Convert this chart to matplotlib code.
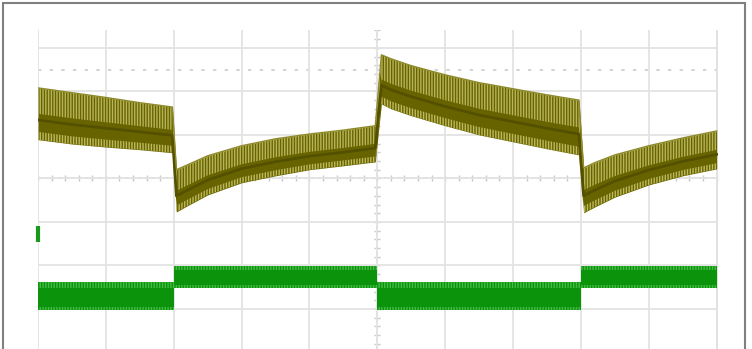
import matplotlib
matplotlib.use("Agg")
import matplotlib.pyplot as plt
from matplotlib.patches import Rectangle
import numpy as np

# channel 1 (olive) envelope, in screen divisions
ch1_x = [0, 0.5, 1, 1.5, 1.98,
         2.04, 2.2, 2.5, 3, 3.5, 4, 4.5, 4.97,
         5.06, 5.2, 5.5, 6, 6.5, 7, 7.5, 7.97,
         8.04, 8.2, 8.5, 9, 9.5, 10]
ch1_top = [2.08, 1.97, 1.86, 1.74, 1.64,
           0.20, 0.31, 0.52, 0.75, 0.91, 1.02, 1.11, 1.21,
           2.84, 2.75, 2.59, 2.38, 2.20, 2.06, 1.92, 1.80,
           0.24, 0.36, 0.54, 0.75, 0.93, 1.09]
ch1_bot = [0.89, 0.79, 0.72, 0.66, 0.59,
           -0.77, -0.63, -0.38, -0.10, 0.06, 0.20, 0.29, 0.38,
           1.71, 1.60, 1.44, 1.21, 1.00, 0.84, 0.68, 0.54,
           -0.79, -0.66, -0.43, -0.15, 0.06, 0.22]

# channel 2 (green) square wave, step edges
ch2_edges = [0, 2, 5, 8, 10]
ch2_top = [-2.39, -2.01, -2.39, -2.01, -2.01]
ch2_bot = [-3.02, -2.52, -3.02, -2.52, -2.52]
ch2_marker = -1.28
trig_level = 2.5

fig = plt.figure(figsize=(7.52, 3.49), dpi=100)
ax = fig.add_axes([38 / 752, 0, 680 / 752, 319 / 349])
ax.set_xlim(0, 10.02)
ax.set_ylim(-3.92, 3.41)

# graticule
ax.set_xticks(range(0, 11))
ax.set_yticks(range(-3, 4))
ax.set_axisbelow(True)
ax.grid(True, color="#e3e3e3", linewidth=1.3, zorder=0)
ax.tick_params(length=0, labelbottom=False, labelleft=False)
for s in ax.spines.values():
    s.set_visible(False)
ax.axvline(10, color="#d8d8d8", lw=2, zorder=0.5)
ax.axvline(5, color="#cfcfcf", lw=1.2, ls=(0, (2, 2)), zorder=0.5)
ax.axhline(0, color="#cfcfcf", lw=1.2, ls=(0, (2, 2)), zorder=0.5)
minor = np.arange(0, 10.01, 0.2)
ax.plot(minor, np.zeros_like(minor), ls="none", marker="|", ms=4,
        color="#c8c8c8", zorder=0.5)
minor_y = np.arange(-3.8, 3.41, 0.2)
ax.plot(np.full_like(minor_y, 5), minor_y, ls="none", marker="_", ms=4,
        color="#c8c8c8", zorder=0.5)
ax.axhline(trig_level, color="#cccccc", lw=1.2, ls=(0, (2, 5)), zorder=0.5)

# channel 1
x1 = np.array(ch1_x)
t1 = np.array(ch1_top)
b1 = np.array(ch1_bot)
h1 = t1 - b1
ax.fill_between(x1, b1, t1, color="#676400", lw=0, zorder=3)
ax.fill_between(x1, t1 - 0.5 * h1, t1, facecolor="none", edgecolor="#b8b45a",
                hatch="||||||", lw=0, zorder=3.1)
ax.fill_between(x1, b1, b1 + 0.15 * h1, facecolor="none", edgecolor="#bdb95e",
                hatch="||||||", lw=0, zorder=3.1)
ax.plot(x1, t1 - 0.62 * h1, color="#535000", lw=2, zorder=3.2)
ax.plot(x1, t1, color="#8e8a2a", lw=1, zorder=3.2)

# channel 2
ax.fill_between(ch2_edges, ch2_bot, ch2_top, step="post", color="#0c930c",
                lw=0, zorder=3)
t2 = np.array(ch2_top)
b2 = np.array(ch2_bot)
h2 = t2 - b2
ax.fill_between(ch2_edges, t2 - 0.2 * h2, t2, step="post", facecolor="none",
                edgecolor="#44bb44", hatch="||||||", lw=0, zorder=3.1)
ax.fill_between(ch2_edges, b2, b2 + 0.12 * h2, step="post", facecolor="none",
                edgecolor="#44bb44", hatch="||||||", lw=0, zorder=3.1)
ax.plot([0], [ch2_marker], marker="|", ms=11, mew=3, color="#1a9a1a",
        clip_on=False, zorder=4)

# outer frame
fig.add_artist(Rectangle((3 / 752, -0.1), 742 / 752, 1.1 - 3 / 349,
                         transform=fig.transFigure, fill=False,
                         edgecolor="#808080", lw=1.5))

fig.savefig("out.png", dpi=100, facecolor="white")
